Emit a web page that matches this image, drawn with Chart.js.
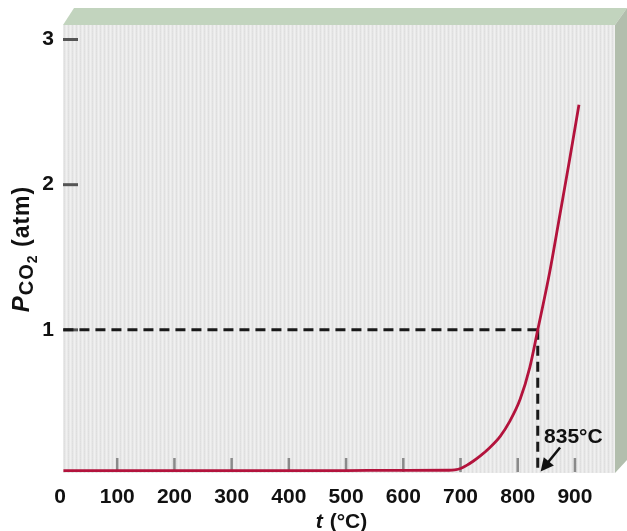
<!DOCTYPE html>
<html>
<head>
<meta charset="utf-8">
<script src="https://cdn.jsdelivr.net/npm/chart.js@4/dist/chart.umd.min.js"></script>
<style>
html,body{margin:0;padding:0;background:#fff;}
canvas{display:block;}
</style>
</head>
<body>
<canvas id="c" width="627" height="531"></canvas>
<script>
// ---- data ----
const temps = [6, 100, 200, 300, 400, 500, 600, 680, 690, 700, 710, 722, 734, 750, 769, 786, 804, 821, 835, 856, 874, 891, 907];
const pco2  = [0.03, 0.03, 0.03, 0.03, 0.03, 0.031, 0.032, 0.033, 0.036, 0.045, 0.065, 0.095, 0.13, 0.185, 0.265, 0.37, 0.52, 0.74, 1.0, 1.4, 1.8, 2.18, 2.55];
const xTickValues = [0, 100, 200, 300, 400, 500, 600, 700, 800, 900];
const yTickValues = [1, 2, 3];
const markTemp = 835;
const markP = 1;
const markLabel = '835°C';
const xTitle = ['t', ' (°C)'];
const yTitle = ['P', 'CO', '2', ' (atm)'];

const FONT = "'Liberation Sans', Arial, Helvetica, sans-serif";
const X_MIN = 0, X_MAX = 970, Y_MIN = 0.014, Y_MAX = 3.10;

function stripePattern(ctx){
  const c = document.createElement('canvas');
  c.width = 4; c.height = 4;
  const g = c.getContext('2d');
  g.fillStyle = '#e9e9e9'; g.fillRect(0,0,4,4);
  g.fillStyle = '#e1e1e1'; g.fillRect(0,0,1,4);
  g.fillStyle = '#f0f0f0'; g.fillRect(2,0,1,4);
  g.fillStyle = '#dedede'; g.fillRect(0,1,1,1); g.fillRect(0,3,1,1);
  return ctx.createPattern(c,'repeat');
}

const panelPlugin = {
  id: 'panel',
  beforeDatasetsDraw(chart){
    const {ctx, chartArea:a, scales:{x, y}} = chart;
    const L = a.left + 3, R = a.right, T = a.top, B = a.bottom;
    ctx.save();
    // top face
    ctx.fillStyle = '#c2d4be';
    ctx.beginPath(); ctx.moveTo(L, T); ctx.lineTo(L+11, T-17); ctx.lineTo(627, T-17); ctx.lineTo(R, T); ctx.closePath(); ctx.fill();
    // right face
    ctx.fillStyle = '#b2bead';
    ctx.beginPath(); ctx.moveTo(R, T); ctx.lineTo(627, T-17); ctx.lineTo(627, B-13); ctx.lineTo(R, B); ctx.closePath(); ctx.fill();
    // front face
    ctx.fillStyle = stripePattern(ctx);
    ctx.fillRect(L, T, R-L, B-T);
    // x tick marks
    ctx.strokeStyle = '#8a8a8a'; ctx.lineWidth = 2.5;
    xTickValues.forEach(v => {
      if (v === 0) return;
      const px = x.getPixelForValue(v);
      ctx.beginPath(); ctx.moveTo(px, B-15); ctx.lineTo(px, B-1); ctx.stroke();
    });
    // y tick marks
    ctx.strokeStyle = '#555'; ctx.lineWidth = 3;
    yTickValues.forEach(v => {
      const py = y.getPixelForValue(v);
      ctx.beginPath(); ctx.moveTo(L, py); ctx.lineTo(L+15, py); ctx.stroke();
    });
    ctx.restore();
  },
  afterDatasetsDraw(chart){
    const {ctx, scales:{x, y}} = chart;
    ctx.save();
    // arrow
    const tx = x.getPixelForValue(874), ty = y.getPixelForValue(0.19);
    const hx = x.getPixelForValue(840), hy = y.getPixelForValue(0.025);
    const ang = Math.atan2(hy-ty, hx-tx);
    ctx.strokeStyle = '#111'; ctx.fillStyle = '#111'; ctx.lineWidth = 2.5;
    ctx.beginPath(); ctx.moveTo(tx, ty); ctx.lineTo(hx - 8*Math.cos(ang), hy - 8*Math.sin(ang)); ctx.stroke();
    ctx.beginPath();
    ctx.moveTo(hx, hy);
    ctx.lineTo(hx - 13*Math.cos(ang) + 6.5*Math.sin(ang), hy - 13*Math.sin(ang) - 6.5*Math.cos(ang));
    ctx.lineTo(hx - 13*Math.cos(ang) - 6.5*Math.sin(ang), hy - 13*Math.sin(ang) + 6.5*Math.cos(ang));
    ctx.closePath(); ctx.fill();
    // label
    ctx.font = 'bold 21px ' + FONT;
    ctx.textAlign = 'left'; ctx.textBaseline = 'middle';
    ctx.fillStyle = '#111';
    ctx.fillText(markLabel, x.getPixelForValue(846), y.getPixelForValue(0.26));
    ctx.restore();
  },
  afterDraw(chart){
    const {ctx} = chart;
    ctx.save();
    ctx.fillStyle = '#111';
    // x title
    ctx.textBaseline = 'alphabetic';
    const f1 = 'italic bold 21px ' + FONT, f2 = 'bold 21px ' + FONT;
    ctx.font = f1; const w1 = ctx.measureText(xTitle[0]).width;
    ctx.font = f2; const w2 = ctx.measureText(xTitle[1]).width;
    let sx = 341 - (w1+w2)/2;
    ctx.font = f1; ctx.fillText(xTitle[0], sx, 528);
    ctx.font = f2; ctx.fillText(xTitle[1], sx + w1 + 1, 528);
    // y title (rotated)
    ctx.translate(29, 249);
    ctx.rotate(-Math.PI/2);
    ctx.letterSpacing = '1px';
    const parts = [
      {t: yTitle[0], f: 'italic bold 24px ' + FONT, dy: 0},
      {t: yTitle[1], f: 'bold 20px ' + FONT, dy: 4},
      {t: yTitle[2], f: 'bold 14px ' + FONT, dy: 8},
      {t: yTitle[3], f: 'bold 23px ' + FONT, dy: 0}
    ];
    let tot = 0;
    parts.forEach(p => { ctx.font = p.f; p.w = ctx.measureText(p.t).width; tot += p.w; });
    let px = -tot/2;
    parts.forEach(p => { ctx.font = p.f; ctx.fillText(p.t, px, p.dy); px += p.w; });
    ctx.restore();
  }
};

new Chart(document.getElementById('c'), {
  type: 'scatter',
  data: {
    datasets: [
      {
        data: temps.map((t, i) => ({x: t, y: pco2[i]})),
        showLine: true, borderColor: '#b3133c', borderWidth: 2.8,
        pointRadius: 0, cubicInterpolationMode: 'monotone', fill: false
      },
      {
        data: [{x: 6, y: markP}, {x: markTemp, y: markP}],
        showLine: true, borderColor: '#1a1a1a', borderWidth: 3, borderDash: [10, 6],
        pointRadius: 0, fill: false
      },
      {
        data: [{x: markTemp, y: markP}, {x: markTemp, y: Y_MIN}],
        showLine: true, borderColor: '#1a1a1a', borderWidth: 3, borderDash: [10, 6],
        pointRadius: 0, fill: false
      }
    ]
  },
  options: {
    responsive: false,
    animation: false,
    events: [],
    layout: {padding: {top: 25, right: 12, left: 0, bottom: 0}},
    plugins: {legend: {display: false}, tooltip: {enabled: false}},
    scales: {
      x: {
        type: 'linear', min: X_MIN, max: X_MAX,
        afterBuildTicks: s => { s.ticks = xTickValues.map(v => ({value: v})); },
        afterFit: s => { s.height = 58; },
        grid: {display: false, drawTicks: false},
        border: {display: false},
        ticks: {padding: 12, color: '#111', font: {family: FONT, size: 21, weight: 'bold'}, maxRotation: 0, autoSkip: false}
      },
      y: {
        type: 'linear', min: Y_MIN, max: Y_MAX,
        afterBuildTicks: s => { s.ticks = yTickValues.map(v => ({value: v})); },
        afterFit: s => { s.width = 60; },
        grid: {display: false, drawTicks: false},
        border: {display: false},
        ticks: {padding: 6, color: '#111', font: {family: FONT, size: 21, weight: 'bold'}}
      }
    }
  },
  plugins: [panelPlugin]
});
</script>
</body>
</html>
